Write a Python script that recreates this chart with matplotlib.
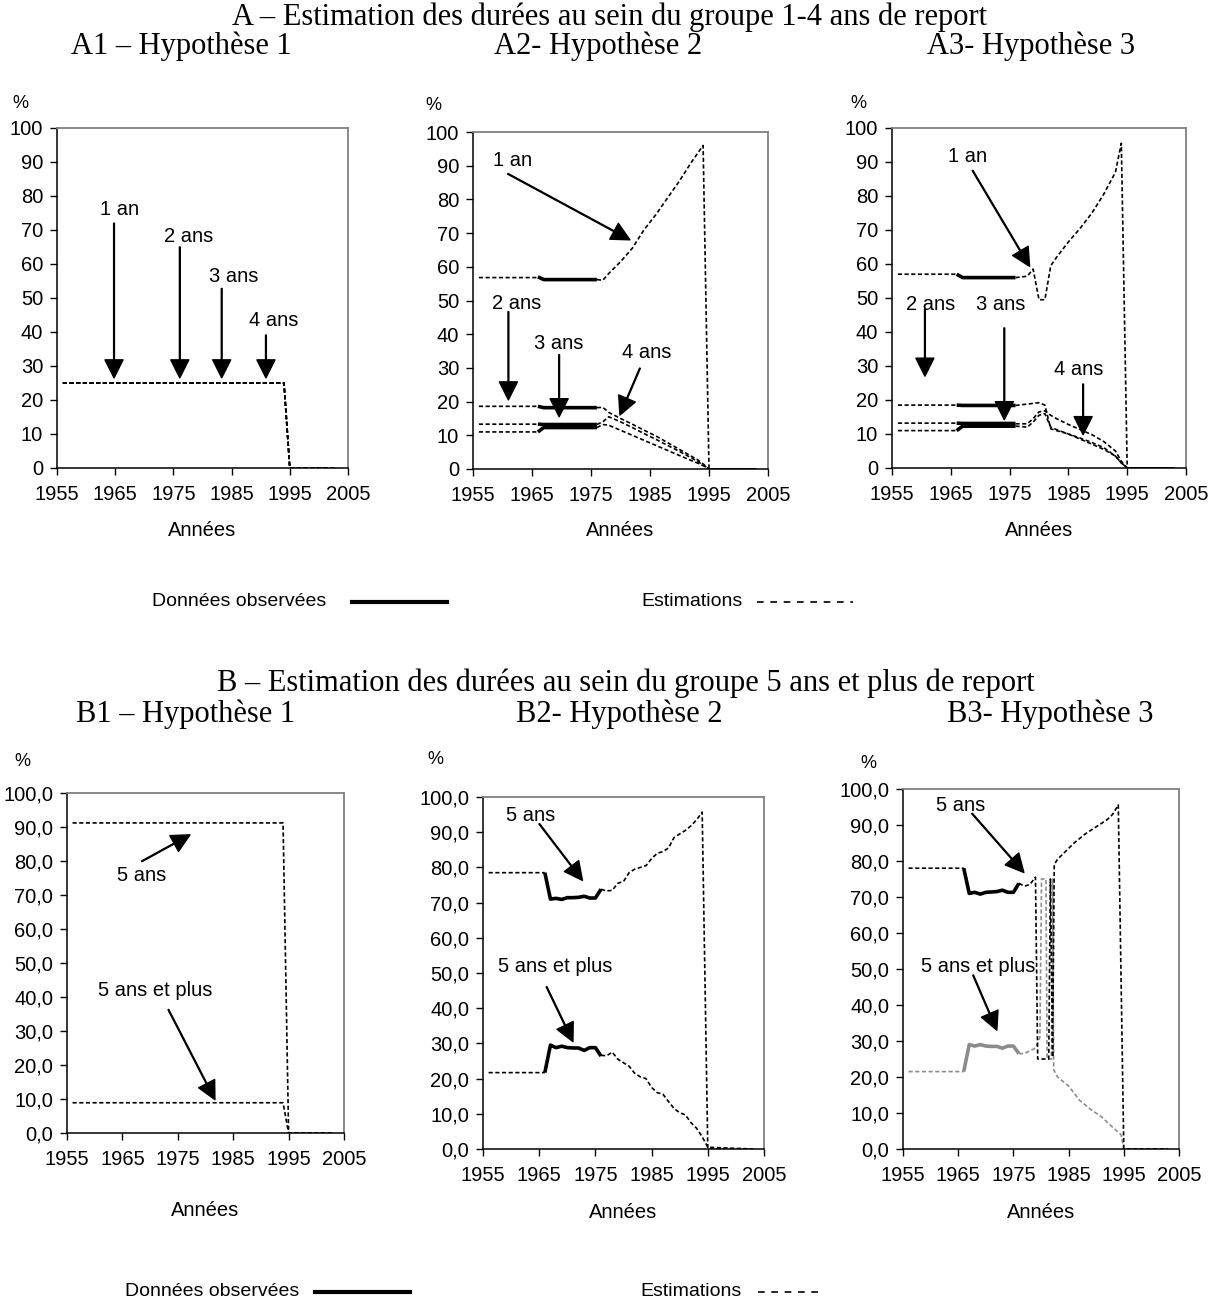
import numpy as np
import matplotlib
matplotlib.use("Agg")
import matplotlib.pyplot as plt
from matplotlib.lines import Line2D

W, H = 1216, 1304
SANS = ['Liberation Sans', 'DejaVu Sans']
NARROW = ['Liberation Sans Narrow', 'Liberation Sans', 'DejaVu Sans']
SERIF = ['Liberation Serif', 'DejaVu Serif']
plt.rcParams['font.family'] = SANS
nan = np.nan

# ---- data ----
obs_years = [1966, 1967, 1968, 1969, 1970, 1971, 1972, 1973, 1974, 1975, 1976]

# A1 - hypothesis 1 (all four durations at 25 %)
a1_years = [1956, 1994, 1995, 2003]
a1_an1 = [25, 25, 0, 0]
a1_ans2 = [25, 25, 0, 0]
a1_ans3 = [25, 25, 0, 0]
a1_ans4 = [25, 25, 0, 0]

# A2 - hypothesis 2 (estimations are cut during the observed years)
a2_years = [1956, 1966, 1971, 1976, 1977, 1978, 1980, 1982, 1984, 1986, 1988, 1990, 1992, 1993, 1994, 1995, 2003]
a2_an1 = [56.8, 56.8, nan, 56.2, 56.0, 58.0, 61.5, 65.5, 71.0, 75.5, 80.5, 85.5, 91.0, 93.5, 96.0, 0, 0]
a2_ans2 = [18.6, 18.6, nan, 18.2, 18.3, 16.8, 15.0, 13.3, 11.5, 9.8, 7.8, 5.8, 3.8, 2.8, 1.5, 0, 0]
a2_ans3 = [13.3, 13.3, nan, 13.2, 14.0, 15.5, 14.0, 12.3, 10.5, 8.8, 7.0, 5.2, 3.3, 2.3, 1.2, 0, 0]
a2_ans4 = [11.0, 11.0, nan, 12.3, 13.2, 13.0, 11.5, 10.0, 8.5, 7.0, 5.5, 4.0, 2.5, 1.8, 1.0, 0, 0]
a2_obs_an1 = [57.0, 56.2, 56.2, 56.2, 56.2, 56.2, 56.2, 56.2, 56.2, 56.2, 56.2]
a2_obs_ans2 = [18.6, 18.2, 18.2, 18.2, 18.2, 18.2, 18.2, 18.2, 18.2, 18.2, 18.2]
a2_obs_ans3 = [13.3, 13.2, 13.2, 13.2, 13.2, 13.2, 13.2, 13.2, 13.2, 13.2, 13.2]
a2_obs_ans4 = [11.0, 12.3, 12.3, 12.3, 12.3, 12.3, 12.3, 12.3, 12.3, 12.3, 12.3]

# A3 - hypothesis 3
a3_years = [1956, 1966, 1971, 1976, 1977, 1978, 1979, 1980, 1981, 1982, 1983, 1985, 1987, 1989, 1991, 1993, 1994, 1995, 2003]
a3_an1 = [57.0, 57.0, nan, 56.0, 56.2, 56.4, 58.5, 49.5, 49.5, 59.5, 62.0, 66.5, 70.5, 75.0, 80.5, 87.0, 95.5, 0, 0]
a3_ans2 = [18.5, 18.5, nan, 18.4, 18.6, 18.8, 19.0, 19.2, 18.5, 11.5, 11.0, 10.0, 8.5, 7.0, 5.5, 3.5, 1.5, 0, 0]
a3_ans3 = [13.2, 13.2, nan, 13.0, 13.0, 13.0, 14.5, 16.5, 16.8, 15.5, 14.5, 12.8, 11.3, 9.8, 7.8, 5.0, 2.0, 0, 0]
a3_ans4 = [11.0, 11.0, nan, 12.3, 12.2, 12.0, 13.5, 15.5, 16.0, 12.0, 11.3, 10.0, 8.8, 7.5, 6.0, 3.5, 1.5, 0, 0]
a3_obs_an1 = [57.0, 56.0, 56.0, 56.0, 56.0, 56.0, 56.0, 56.0, 56.0, 56.0, 56.0]
a3_obs_ans2 = [18.5, 18.4, 18.4, 18.4, 18.4, 18.4, 18.4, 18.4, 18.4, 18.4, 18.4]
a3_obs_ans3 = [13.2, 13.1, 13.1, 13.1, 13.1, 13.1, 13.1, 13.1, 13.1, 13.1, 13.1]
a3_obs_ans4 = [11.0, 12.3, 12.3, 12.3, 12.3, 12.3, 12.3, 12.3, 12.3, 12.3, 12.3]

# B1 - hypothesis 1
b1_years = [1956, 1994, 1995, 2003]
b1_ans5 = [91.2, 91.2, 0, 0]
b1_plus5 = [8.9, 8.9, 0, 0]

# B2 - hypothesis 2
b2_years = [1956, 1966, 1971, 1976, 1977, 1978, 1979, 1980, 1981, 1982, 1983, 1984, 1985, 1986, 1987,
            1988, 1989, 1990, 1991, 1992, 1993, 1994, 1995, 2003]
b2_ans5 = [78.5, 78.5, nan, 73.8, 73.3, 73.5, 75.5, 76.0, 78.5, 79.5, 80.0, 80.5, 82.5, 84.0, 84.5,
           85.5, 88.5, 89.5, 90.5, 91.8, 93.5, 95.7, 0, 0]
b2_plus5 = [21.7, 21.7, nan, 26.6, 26.5, 27.5, 25.5, 24.5, 23.5, 21.5, 20.5, 20.0, 17.5, 16.0, 15.6,
            13.5, 11.5, 10.3, 9.7, 7.5, 5.9, 3.5, 0.5, 0]
b2_obs_ans5 = [78.5, 71.0, 71.2, 70.9, 71.4, 71.4, 71.5, 71.8, 71.3, 71.3, 73.8]
b2_obs_plus5 = [21.7, 29.5, 28.8, 29.2, 28.8, 28.7, 28.7, 28.0, 28.8, 28.8, 26.4]

# B3 - hypothesis 3
b3_years_ans5 = [1956, 1966, 1971, 1976, 1977, 1978, 1979, 1979.4, 1981.4, 1981.7, 1982.1, 1982.4, 1983,
                 1984, 1986, 1988, 1990, 1992, 1993, 1994, 1995, 2003]
b3_ans5 = [78.0, 78.0, nan, 73.8, 73.0, 73.5, 75.5, 25.0, 25.0, 75.0, 25.5, 79.0, 80.5,
           82.0, 85.0, 87.5, 89.5, 91.5, 93.0, 95.6, 0, 0]
b3_years_plus5 = [1956, 1966, 1971, 1976, 1977, 1978, 1979, 1979.8, 1980.1, 1980.9, 1981.1, 1981.9, 1982.1,
                  1982.3, 1983, 1985, 1987, 1989, 1991, 1993, 1994.5, 1995, 2003]
b3_plus5 = [21.5, 21.5, nan, 26.5, 26.5, 27.3, 28.0, 31.0, 75.0, 75.0, 25.0, 25.0, 75.0,
            22.0, 20.0, 17.5, 13.5, 11.0, 8.9, 6.0, 4.0, 0, 0]
b3_obs_ans5 = [78.0, 71.0, 71.3, 70.8, 71.3, 71.4, 71.5, 71.9, 71.3, 71.3, 73.8]
b3_obs_plus5 = [21.5, 29.0, 28.6, 29.0, 28.6, 28.5, 28.5, 28.0, 28.6, 28.6, 26.5]

x_ticks = [1955, 1965, 1975, 1985, 1995, 2005]
y_ticks = [0, 10, 20, 30, 40, 50, 60, 70, 80, 90, 100]
y_labels_a = ['0', '10', '20', '30', '40', '50', '60', '70', '80', '90', '100']
y_labels_b = ['0,0', '10,0', '20,0', '30,0', '40,0', '50,0', '60,0', '70,0', '80,0', '90,0', '100,0']

GREY = '#8c8c8c'
EST = dict(lw=1.2, linestyle=(0, (2.5, 1.5)))
OBS = dict(lw=2.6, solid_capstyle='butt')
ARROW = dict(facecolor='black', edgecolor='black', width=0.6, headwidth=13, headlength=13, shrink=0)
FS = 14.5

fig = plt.figure(figsize=(W / 100, H / 100), dpi=100)


def fx(x):
    return x / W


def fy(y):
    return 1 - y / H


def panel(left, top, right, bottom, ylabels, lab_off=62):
    ax = fig.add_axes([fx(left), fy(bottom), (right - left) / W, (bottom - top) / H])
    ax.set_xlim(1955, 2005)
    ax.set_ylim(0, 100)
    ax.set_xticks(x_ticks)
    ax.set_yticks(y_ticks)
    ax.set_yticklabels(ylabels)
    ax.tick_params(direction='out', length=5, width=1, labelsize=FS)
    ax.tick_params(axis='x', pad=7)
    ax.tick_params(axis='y', pad=5)
    for s in ['top', 'right']:
        ax.spines[s].set_color('#808080')
        ax.spines[s].set_linewidth(1.3)
    for s in ['left', 'bottom']:
        ax.spines[s].set_linewidth(1.1)
    fig.text(fx((left + right) / 2), fy(bottom + lab_off), 'Années', ha='center', va='center', fontsize=FS)
    return ax


def arrow(ax, label, txt, tail, tip):
    ax.text(txt[0], txt[1], label, ha='center', va='center', fontsize=FS)
    ax.annotate('', xy=tip, xytext=tail, arrowprops=ARROW)


# ---- titles ----
TS = 22
fig.text(fx(609), fy(17), 'A – Estimation des durées au sein du groupe 1-4 ans de report',
         ha='center', va='center', fontsize=TS, family=SERIF)
fig.text(fx(181), fy(46), 'A1 – Hypothèse 1', ha='center', va='center', fontsize=TS, family=SERIF)
fig.text(fx(598), fy(46), 'A2- Hypothèse 2', ha='center', va='center', fontsize=TS, family=SERIF)
fig.text(fx(1031), fy(46), 'A3- Hypothèse 3', ha='center', va='center', fontsize=TS, family=SERIF)
fig.text(fx(626), fy(683), 'B – Estimation des durées au sein du groupe 5 ans et plus de report',
         ha='center', va='center', fontsize=TS, family=SERIF)
fig.text(fx(186), fy(714), 'B1 – Hypothèse 1', ha='center', va='center', fontsize=TS, family=SERIF)
fig.text(fx(619), fy(714), 'B2- Hypothèse 2', ha='center', va='center', fontsize=TS, family=SERIF)
fig.text(fx(1050), fy(714), 'B3- Hypothèse 3', ha='center', va='center', fontsize=TS, family=SERIF)

for px, py in [(20, 103), (433, 105), (858, 103), (22, 762), (435, 760), (868, 763)]:
    fig.text(fx(px), fy(py), '%', ha='center', va='center', fontsize=13)

# ---- A1 ----
ax = panel(57, 128, 348, 468, y_labels_a)
for s in [a1_an1, a1_ans2, a1_ans3, a1_ans4]:
    ax.plot(a1_years, s, color='black', **EST)
arrow(ax, '1 an', (1965.8, 76), (1964.8, 72), (1964.8, 26.5))
arrow(ax, '2 ans', (1977.6, 68), (1976.1, 65), (1976.1, 26.5))
arrow(ax, '3 ans', (1985.3, 56.3), (1983.3, 52.8), (1983.3, 26.5))
arrow(ax, '4 ans', (1992.2, 43.5), (1990.9, 39.1), (1990.9, 26.5))

# ---- A2 ----
ax = panel(473, 132, 768, 469, y_labels_a)
for s in [a2_an1, a2_ans2, a2_ans3, a2_ans4]:
    ax.plot(a2_years, s, color='black', **EST)
for s in [a2_obs_an1, a2_obs_ans2, a2_obs_ans3, a2_obs_ans4]:
    ax.plot(obs_years, s, color='black', **OBS)
arrow(ax, '1 an', (1961.7, 91.6), (1960.9, 87.6), (1981.6, 68))
arrow(ax, '2 ans', (1962.4, 49), (1961.0, 46.7), (1961.0, 20.5))
arrow(ax, '3 ans', (1969.5, 37.3), (1969.6, 33.9), (1969.6, 15.5))
arrow(ax, '4 ans', (1984.4, 34.7), (1983.3, 29.9), (1979.9, 16))

# ---- A3 ----
ax = panel(892, 128, 1186, 468, y_labels_a)
for s in [a3_an1, a3_ans2, a3_ans3, a3_ans4]:
    ax.plot(a3_years, s, color='black', **EST)
for s in [a3_obs_an1, a3_obs_ans2, a3_obs_ans3, a3_obs_ans4]:
    ax.plot(obs_years, s, color='black', **OBS)
arrow(ax, '1 an', (1967.9, 91.7), (1968.7, 87.5), (1978.4, 59.3))
arrow(ax, '2 ans', (1961.5, 48.2), (1960.6, 46.6), (1960.6, 27))
arrow(ax, '3 ans', (1973.4, 48.2), (1974.1, 41.2), (1974.1, 14.2))
arrow(ax, '4 ans', (1986.7, 28.9), (1987.5, 24.7), (1987.5, 9.8))

# ---- B1 ----
ax = panel(67, 793, 344, 1133, y_labels_b, lab_off=77)
ax.plot(b1_years, b1_ans5, color='black', **EST)
ax.plot(b1_years, b1_plus5, color='black', **EST)
arrow(ax, '5 ans', (1968.4, 75.6), (1968.5, 79.9), (1977.2, 87.7))
arrow(ax, '5 ans et plus', (1971.0, 42), (1973.3, 36.3), (1981.7, 9.8))

# ---- B2 ----
ax = panel(483, 797, 764, 1149, y_labels_b, lab_off=64)
ax.plot(b2_years, b2_ans5, color='black', **EST)
ax.plot(b2_years, b2_plus5, color='black', **EST)
ax.plot(obs_years, b2_obs_ans5, color='black', **OBS)
ax.plot(obs_years, b2_obs_plus5, color='black', **OBS)
arrow(ax, '5 ans', (1963.4, 94.8), (1965.0, 92.4), (1972.7, 76.3))
arrow(ax, '5 ans et plus', (1967.8, 51.8), (1966.3, 46.1), (1971.0, 30.5))

# ---- B3 ----
ax = panel(903, 789, 1179, 1149, y_labels_b, lab_off=64)
ax.plot(b3_years_plus5, b3_plus5, color=GREY, **EST)
ax.plot(b3_years_ans5, b3_ans5, color='black', **EST)
ax.plot(obs_years, b3_obs_plus5, color=GREY, **OBS)
ax.plot(obs_years, b3_obs_ans5, color='black', **OBS)
arrow(ax, '5 ans', (1965.5, 95.3), (1967.5, 93.2), (1976.9, 76.8))
arrow(ax, '5 ans et plus', (1968.6, 50.8), (1967.7, 48.3), (1972.0, 33))

# ---- legends ----
for ly, t1, l1, t2, l2 in [(602, 152, (352, 447), 641, (757, 853)),
                           (1292, 125, (315, 410), 640, (758, 823))]:
    fig.text(fx(t1), fy(ly), 'Données observées', ha='left', va='center', fontsize=14, family=NARROW)
    fig.text(fx(t2), fy(ly), 'Estimations', ha='left', va='center', fontsize=14, family=NARROW)
    fig.add_artist(Line2D([fx(l1[0]), fx(l1[1])], [fy(ly), fy(ly)], transform=fig.transFigure,
                          color='black', lw=3))
    fig.add_artist(Line2D([fx(l2[0]), fx(l2[1])], [fy(ly), fy(ly)], transform=fig.transFigure,
                          color='black', lw=1.2, linestyle=(0, (4, 4))))

fig.savefig('out.png', dpi=100)
